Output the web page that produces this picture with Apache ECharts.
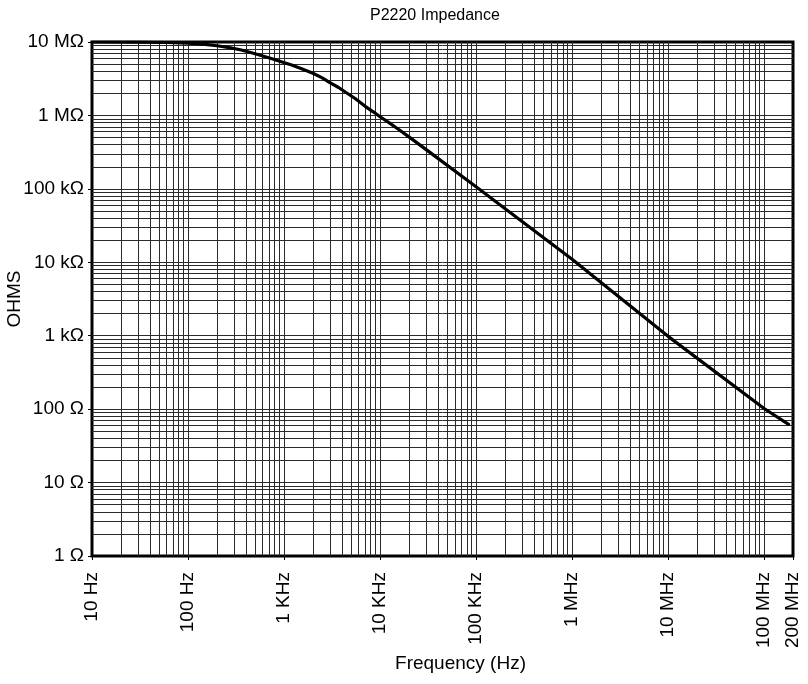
<!DOCTYPE html>
<html><head><meta charset="utf-8">
<script src="https://cdn.jsdelivr.net/npm/echarts@6/dist/echarts.min.js"></script>
<style>html,body{margin:0;padding:0;background:#fff}#c{width:808px;height:684px}</style>
</head><body><div id="c"></div>
<script>
// Data
const freqHz = [10, 30, 60, 100, 150, 200, 270, 350, 450, 600, 750, 900, 1200, 1500, 2000, 2500, 3000, 3700, 4500, 5500, 7000, 8500, 10000, 12500, 15000, 20000, 30000, 100000, 1000000, 10000000, 100000000, 180000000];
const impedanceOhm = [10000000, 9950000, 9850000, 9650000, 9300000, 8900000, 8400000, 7850000, 7200000, 6450000, 5900000, 5450000, 4850000, 4350000, 3750000, 3250000, 2800000, 2400000, 2020000, 1700000, 1330000, 1120000, 960000, 790000, 670000, 510000, 345000, 107000, 11000, 980, 102, 62];
const xTickValues = [10, 100, 1e3, 1e4, 1e5, 1e6, 1e7, 1e8, 2e8];
const xTickLabels = ['10 Hz', '100 Hz', '1 KHz', '10 KHz', '100 KHz', '1 MHz', '10 MHz', '100 MHz', '200 MHz'];
const yTickValues = [1, 10, 100, 1e3, 1e4, 1e5, 1e6, 1e7];
const yTickLabels = ['1 Ω', '10 Ω', '100 Ω', '1 kΩ', '10 kΩ', '100 kΩ', '1 MΩ', '10 MΩ'];
const xDecades = [10, 100, 1e3, 1e4, 1e5, 1e6, 1e7, 1e8];
const yDecades = [1, 10, 100, 1e3, 1e4, 1e5, 1e6];
const multipliers = [1, 2, 3, 4, 5, 6, 7, 8, 9];
const xMax = 2e8, yMax = 1e7;

const FONT = "'Liberation Sans', Arial, sans-serif";
function labelFor(values, labels) {
  return function (v) {
    for (let i = 0; i < values.length; i++) {
      if (Math.abs(Math.log10(v) - Math.log10(values[i])) < 1e-4) return labels[i];
    }
    return '';
  };
}
const gridX = [];
xDecades.forEach(d => multipliers.forEach(m => { const v = d * m; if (v > 10 && v < xMax) gridX.push(v); }));
const gridY = [];
yDecades.forEach(d => multipliers.forEach(m => { const v = d * m; if (v > 1 && v < yMax) gridY.push(v); }));

const chart = echarts.init(document.getElementById('c'), null, { renderer: 'canvas' });
chart.setOption({
  animation: false,
  backgroundColor: '#fff',
  title: {
    text: 'P2220 Impedance', left: 365, top: 3,
    textStyle: { fontFamily: FONT, fontSize: 16, fontWeight: 'normal', color: '#000' }
  },
  grid: { left: 92, right: 15, top: 42, bottom: 128, show: true, borderColor: '#000', borderWidth: 3, containLabel: false, outerBoundsMode: 'none' },
  xAxis: {
    type: 'log', logBase: 10, min: 10, max: xMax,
    name: 'Frequency (Hz)', nameLocation: 'middle', nameGap: 98, nameMoveOverlap: false,
    nameTextStyle: { fontFamily: FONT, fontSize: 19, color: '#000', padding: [0, 0, 0, 36] },
    axisLine: { show: false },
    axisTick: { show: true, customValues: xTickValues, length: 4, lineStyle: { color: '#000', width: 1 } },
    axisLabel: {
      customValues: xTickValues, rotate: 90, margin: 16,
      fontFamily: FONT, fontSize: 19, color: '#000',
      formatter: labelFor(xTickValues, xTickLabels)
    },
    splitLine: { show: false }, minorTick: { show: false }, minorSplitLine: { show: false }
  },
  yAxis: {
    type: 'log', logBase: 10, min: 1, max: yMax,
    name: 'OHMS', nameLocation: 'middle', nameGap: 68, nameRotate: 90, nameMoveOverlap: false,
    nameTextStyle: { fontFamily: FONT, fontSize: 19, color: '#000' },
    axisLine: { show: false },
    axisTick: { show: true, customValues: yTickValues, length: 4, lineStyle: { color: '#000', width: 1 } },
    axisLabel: {
      customValues: yTickValues, margin: 8,
      fontFamily: FONT, fontSize: 19, color: '#000',
      formatter: labelFor(yTickValues, yTickLabels)
    },
    splitLine: { show: false }, minorTick: { show: false }, minorSplitLine: { show: false }
  },
  series: [
    {
      type: 'line', data: [], silent: true, z: 1,
      markLine: {
        silent: true, symbol: ['none', 'none'], label: { show: false },
        lineStyle: { color: '#2a2a2a', width: 1, type: 'solid' },
        emphasis: { disabled: true },
        data: gridX.map(v => ({ xAxis: v })).concat(gridY.map(v => ({ yAxis: v })))
      }
    },
    {
      type: 'line', z: 5, silent: true,
      data: freqHz.map((f, i) => [f, impedanceOhm[i]]),
      showSymbol: false, smooth: false,
      lineStyle: { color: '#000', width: 3.2, cap: 'round', join: 'round' }
    }
  ]
});
</script></body></html>
